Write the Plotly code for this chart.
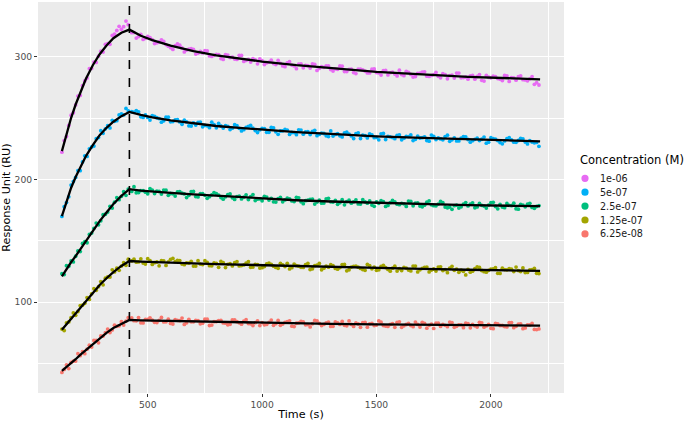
"""SPR sensorgram: association/dissociation responses with fitted 1:1 curves."""

import plotly.graph_objects as go

# ---- data -----------------------------------------------------------------
TIME = [
    125, 135, 145, 155, 165, 175, 185, 195, 205, 215,
    225, 235, 245, 255, 265, 275, 285, 295, 305, 315,
    325, 335, 345, 355, 365, 375, 385, 395, 405, 415,
    430, 450, 470, 490, 510, 530, 550, 570, 590, 610,
    630, 650, 670, 690, 710, 730, 750, 770, 790, 810,
    830, 850, 870, 890, 910, 930, 950, 970, 990, 1010,
    1030, 1050, 1070, 1090, 1110, 1130, 1150, 1170, 1190, 1210,
    1230, 1250, 1270, 1290, 1310, 1330, 1350, 1370, 1390, 1410,
    1430, 1450, 1470, 1490, 1510, 1530, 1550, 1570, 1590, 1610,
    1630, 1650, 1670, 1690, 1710, 1730, 1750, 1770, 1790, 1810,
    1830, 1850, 1870, 1890, 1910, 1930, 1950, 1970, 1990, 2010,
    2030, 2050, 2070, 2090, 2110, 2130, 2150, 2170, 2190, 2210,
]
# interleaved dissociation readings
TIME_MID = [
    440, 460, 480, 500, 520, 540, 560, 580, 600, 620,
    640, 660, 680, 700, 720, 740, 760, 780, 800, 820,
    840, 860, 880, 900, 920, 940, 960, 980, 1000, 1020,
    1040, 1060, 1080, 1100, 1120, 1140, 1160, 1180, 1200, 1220,
    1240, 1260, 1280, 1300, 1320, 1340, 1360, 1380, 1400, 1420,
    1440, 1460, 1480, 1500, 1520, 1540, 1560, 1580, 1600, 1620,
    1640, 1660, 1680, 1700, 1720, 1740, 1760, 1780, 1800, 1820,
    1840, 1860, 1880, 1900, 1920, 1940, 1960, 1980, 2000, 2020,
    2040, 2060, 2080, 2100, 2120, 2140, 2160, 2180, 2200,
]

RESP_1E06 = [
    222.2, 231.6, 234.9, 243.9, 252.3, 254.3, 260.7, 267.9, 268.4, 276.4,
    280.2, 282.5, 290.2, 290.4, 295.6, 295.3, 300.4, 304.4, 303.7, 310.0,
    310.6, 310.1, 317.2, 318.3, 321.3, 324.7, 322.3, 324.4, 329.0, 326.0,
    319.5, 315.1, 318.2, 314.9, 315.5, 310.6, 312.0, 312.5, 308.5, 305.9,
    310.3, 307.1, 305.4, 306.5, 302.1, 304.3, 304.8, 300.6, 301.1, 301.7,
    297.7, 301.3, 299.6, 297.7, 301.0, 296.9, 295.6, 297.4, 298.1, 293.6,
    295.6, 294.4, 296.9, 292.4, 294.9, 293.1, 290.2, 294.1, 292.9, 290.7,
    293.7, 290.4, 291.3, 292.4, 288.3, 289.7, 292.2, 287.9, 289.9, 286.2,
    289.7, 288.2, 286.7, 290.0, 286.7, 288.5, 285.1, 287.3, 284.3, 285.4,
    288.0, 285.5, 283.8, 286.5, 287.6, 283.9, 285.4, 284.0, 286.1, 282.0,
    284.9, 286.6, 282.7, 283.4, 284.4, 281.6, 285.3, 280.1, 283.2, 284.0,
    282.1, 280.5, 284.4, 282.9, 280.8, 284.3, 281.0, 281.9, 277.4, 276.9,
]
RESP_1E06_MID = [
    319.6, 316.3, 314.0, 316.5, 313.9, 311.3, 313.7, 309.8, 307.3, 309.0,
    309.3, 303.8, 306.0, 305.9, 302.9, 303.0, 304.6, 300.2, 301.9, 298.4,
    301.7, 299.2, 298.0, 301.1, 296.1, 297.7, 298.4, 294.1, 296.7, 295.0,
    297.1, 293.5, 294.5, 291.8, 295.9, 292.4, 293.9, 290.9, 292.6, 294.0,
    288.8, 291.8, 292.4, 289.5, 290.1, 292.4, 287.9, 289.6, 287.0, 289.9,
    289.2, 286.7, 289.8, 287.0, 285.0, 288.7, 286.9, 285.8, 288.9, 284.5,
    287.2, 283.4, 286.3, 287.3, 284.1, 284.7, 287.1, 282.7, 285.4, 284.6,
    282.6, 286.6, 283.0, 281.6, 284.7, 283.8, 280.7, 284.7, 282.7, 283.7,
    281.6, 284.7, 279.8, 282.7, 283.6, 281.2, 280.3, 283.7, 278.8,
]
RESP_5E07 = [
    169.8, 177.7, 181.1, 185.8, 195.4, 198.3, 201.6, 207.2, 207.1, 214.2,
    219.2, 218.7, 224.9, 226.4, 227.1, 233.1, 234.1, 239.7, 237.5, 241.2,
    243.7, 241.9, 248.1, 247.3, 247.8, 252.5, 253.4, 252.5, 257.8, 255.7,
    255.1, 256.0, 251.0, 252.5, 248.3, 251.4, 249.5, 247.7, 250.7, 247.1,
    248.6, 244.9, 246.8, 243.5, 244.3, 246.7, 244.0, 242.1, 244.6, 245.6,
    241.8, 243.2, 241.7, 243.7, 239.5, 242.3, 243.9, 239.8, 240.4, 241.4,
    238.4, 241.9, 236.7, 239.6, 240.2, 238.2, 236.4, 240.2, 238.7, 236.5,
    240.0, 236.6, 237.4, 234.9, 235.3, 237.2, 234.6, 238.5, 235.4, 237.2,
    233.3, 235.6, 237.1, 234.0, 232.2, 237.4, 235.0, 234.1, 235.9, 232.3,
    235.1, 236.2, 232.6, 233.7, 234.7, 231.1, 235.1, 233.8, 232.3, 236.0,
    232.2, 231.3, 233.5, 234.6, 230.3, 232.6, 231.7, 234.5, 230.3, 233.1,
    231.6, 229.0, 233.1, 232.2, 230.2, 233.4, 230.4, 231.5, 229.8, 226.9,
]
RESP_5E07_MID = [
    254.7, 255.0, 250.5, 250.5, 252.0, 250.2, 246.6, 250.7, 246.9, 248.4,
    246.8, 248.2, 243.6, 246.0, 246.4, 242.8, 243.6, 246.6, 242.0, 243.5,
    243.8, 240.6, 244.5, 241.6, 240.5, 243.2, 241.7, 238.2, 241.6, 238.4,
    242.3, 238.8, 239.4, 240.7, 236.6, 238.1, 240.4, 236.8, 238.8, 239.0,
    235.6, 237.7, 235.5, 239.5, 236.6, 235.5, 237.9, 236.8, 233.3, 237.9,
    236.0, 233.8, 236.2, 234.2, 237.1, 232.5, 234.7, 233.2, 236.2, 233.6,
    234.8, 231.6, 235.3, 234.0, 231.7, 236.1, 232.4, 233.0, 234.9, 231.0,
    233.8, 231.3, 234.9, 232.5, 231.5, 233.6, 232.7, 229.5, 234.0, 232.7,
    230.0, 231.3, 234.0, 230.3, 231.7, 232.9, 228.9, 230.4, 230.1,
]
RESP_25E08 = [
    123.2, 122.5, 129.7, 129.2, 133.6, 132.8, 137.4, 141.7, 141.2, 147.8,
    149.2, 148.4, 155.2, 156.3, 160.1, 164.4, 163.0, 166.3, 171.2, 171.6,
    173.4, 178.1, 176.7, 181.4, 185.1, 183.5, 186.2, 190.0, 187.0, 192.1,
    190.2, 189.1, 190.9, 189.6, 192.4, 188.5, 190.2, 191.3, 187.0, 188.3,
    189.8, 188.7, 185.2, 190.0, 186.0, 188.4, 187.0, 185.9, 189.3, 187.2,
    183.9, 187.6, 185.0, 186.0, 184.1, 187.4, 185.9, 182.8, 184.1, 186.2,
    183.2, 181.7, 184.3, 181.7, 184.7, 182.5, 185.4, 181.7, 182.7, 183.8,
    179.9, 183.1, 180.7, 184.6, 181.5, 179.7, 183.4, 181.9, 180.6, 183.3,
    179.9, 181.7, 182.4, 178.1, 180.5, 181.8, 178.8, 182.8, 179.8, 180.5,
    178.0, 182.0, 180.7, 178.3, 179.0, 182.5, 178.6, 179.9, 181.0, 176.9,
    175.6, 179.0, 177.7, 181.1, 179.9, 176.9, 180.4, 178.3, 179.1, 181.3,
    176.0, 177.5, 180.4, 178.6, 176.1, 179.7, 177.7, 180.5, 176.4, 178.7,
]
RESP_25E08_MID = [
    194.0, 189.3, 190.9, 188.3, 191.2, 190.5, 188.1, 191.2, 188.5, 186.4,
    190.1, 188.2, 187.1, 190.2, 185.7, 188.4, 184.6, 187.4, 188.4, 185.2,
    185.8, 188.1, 183.7, 186.4, 185.6, 183.6, 187.6, 184.0, 182.6, 185.6,
    184.6, 181.5, 185.4, 183.3, 184.2, 182.0, 185.0, 180.2, 183.0, 184.0,
    181.6, 180.6, 184.1, 181.7, 182.9, 181.0, 179.3, 183.1, 181.7, 180.0,
    183.5, 180.6, 179.1, 181.6, 182.7, 178.0, 181.0, 181.7, 179.4, 180.1,
    182.3, 178.5, 180.8, 177.7, 181.4, 179.3, 178.5, 182.0, 177.5, 177.5,
    178.6, 176.7, 179.8, 178.4, 180.8, 177.6, 178.9, 176.6, 181.0, 177.9,
    179.6, 177.0, 178.9, 180.6, 175.7, 179.0, 179.8, 177.2, 178.0,
]
RESP_125E09 = [
    78.1, 76.9, 83.2, 83.9, 87.3, 91.2, 89.3, 92.4, 97.2, 97.5,
    99.1, 103.7, 102.2, 106.8, 110.9, 109.6, 112.6, 116.8, 114.1, 119.5,
    120.5, 120.5, 126.3, 124.6, 127.7, 125.9, 129.4, 132.1, 130.0, 135.0,
    133.6, 132.6, 135.3, 131.0, 133.8, 132.2, 129.6, 133.7, 132.8, 135.6,
    134.0, 131.0, 132.0, 133.3, 129.4, 131.0, 133.8, 129.7, 131.9, 128.4,
    132.1, 130.8, 129.5, 133.0, 129.8, 131.7, 128.4, 130.7, 127.8, 129.0,
    131.7, 129.3, 127.6, 130.4, 131.6, 128.1, 129.7, 128.4, 130.6, 126.6,
    129.7, 131.5, 127.7, 128.5, 129.7, 126.9, 130.6, 125.5, 128.6, 129.4,
    127.5, 125.9, 129.8, 128.5, 126.4, 130.0, 126.7, 127.7, 125.3, 125.8,
    127.8, 125.4, 129.4, 126.4, 128.4, 124.6, 127.0, 128.6, 125.7, 124.0,
    129.2, 126.9, 126.0, 122.2, 124.4, 127.2, 128.3, 124.8, 125.9, 127.1,
    123.5, 127.6, 126.3, 126.8, 128.6, 124.9, 124.1, 126.3, 127.5, 123.3,
]
RESP_125E09_MID = [
    135.0, 132.8, 131.9, 135.4, 130.7, 132.7, 133.8, 129.9, 134.9, 133.0,
    133.9, 130.5, 131.8, 129.4, 133.8, 130.6, 132.3, 129.6, 131.5, 133.1,
    128.2, 131.4, 132.2, 129.5, 130.3, 132.9, 128.6, 130.5, 128.1, 131.2,
    130.7, 128.3, 131.6, 129.0, 127.1, 131.0, 129.3, 128.3, 131.5, 127.2,
    130.1, 126.4, 129.4, 130.5, 127.5, 128.2, 130.7, 126.4, 129.2, 128.5,
    126.6, 130.7, 127.2, 126.0, 129.1, 128.2, 125.2, 129.3, 127.3, 128.3,
    126.2, 129.4, 124.6, 127.5, 128.6, 126.2, 125.3, 128.8, 126.5, 127.8,
    125.9, 124.3, 125.1, 126.7, 125.2, 128.7, 125.8, 124.4, 126.9, 128.1,
    123.4, 126.5, 127.2, 124.9, 125.7, 127.9, 124.2, 126.5, 123.5,
]
RESP_625E10 = [
    42.8, 45.2, 48.9, 45.9, 50.9, 52.0, 52.0, 58.0, 56.4, 59.7,
    58.0, 61.7, 64.9, 63.4, 68.8, 68.9, 66.9, 72.5, 72.4, 75.1,
    78.1, 75.3, 77.4, 81.2, 80.3, 80.7, 84.1, 81.3, 84.6, 87.3,
    87.2, 84.8, 83.2, 86.0, 87.2, 83.6, 85.2, 83.9, 86.1, 82.2,
    85.2, 87.0, 83.2, 84.0, 85.2, 82.4, 86.1, 81.0, 84.1, 85.0,
    83.1, 81.5, 85.5, 84.1, 82.1, 85.7, 82.4, 83.3, 80.9, 81.5,
    83.5, 81.1, 85.1, 82.2, 84.1, 80.4, 82.8, 84.4, 81.5, 79.8,
    85.1, 82.7, 81.9, 83.8, 80.3, 83.1, 84.3, 80.7, 81.9, 83.1,
    79.5, 83.6, 82.3, 80.9, 84.7, 81.0, 80.2, 82.4, 83.6, 79.5,
    81.8, 81.0, 83.8, 79.7, 82.6, 81.1, 78.6, 82.8, 81.9, 80.0,
    83.3, 80.3, 81.5, 82.9, 79.1, 80.7, 83.6, 79.6, 81.9, 78.4,
    82.2, 81.0, 79.8, 83.4, 80.3, 82.2, 79.0, 81.4, 77.8, 78.2,
]
RESP_625E10_MID = [
    84.9, 87.4, 83.1, 85.9, 85.3, 83.4, 87.5, 84.0, 82.7, 85.8,
    84.9, 81.9, 86.0, 84.0, 85.0, 82.9, 86.1, 81.3, 84.2, 85.2,
    82.9, 82.0, 85.5, 83.2, 84.5, 82.6, 80.9, 84.8, 83.4, 81.9,
    85.4, 82.5, 81.1, 83.6, 84.8, 80.1, 83.2, 83.9, 81.7, 82.4,
    84.7, 80.9, 83.2, 80.2, 83.9, 81.9, 81.2, 84.7, 80.2, 82.2,
    83.4, 79.6, 82.6, 81.3, 83.7, 80.5, 81.9, 79.5, 84.0, 80.8,
    82.6, 80.0, 81.9, 83.6, 78.8, 82.0, 82.9, 80.2, 81.1, 83.8,
    79.5, 81.5, 79.2, 82.4, 81.9, 79.7, 83.1, 80.6, 78.7, 82.6,
    81.0, 80.1, 83.4, 79.2, 82.1, 78.4, 81.5, 82.7, 77.7,
]

# fitted curves (black lines)
FIT_TIME = [125, 145, 165, 185, 205, 230, 260, 290, 320, 350, 385, 420, 470,
            520, 600, 700, 800, 900, 1000, 1150, 1300, 1500, 1700, 1900, 2100, 2215]
FIT_1E06 = [223, 237, 250, 261, 271, 282, 293, 302, 309, 315, 319.5, 322, 317,
            313.5, 309, 304.5, 301, 298.5, 296, 293, 290.5, 287.5, 285.5, 283.5, 282.3, 281.5]
FIT_5E07 = [170, 182, 193, 202, 210, 219, 228, 236, 242, 247, 251.5, 255, 252.5,
            250.5, 248, 245.5, 243.5, 242, 240.5, 238.5, 237, 235, 233.8, 232.6, 231.6, 231]
FIT_25E08 = [121, 127, 132.5, 137.5, 143, 150, 158, 166, 173, 180, 186.5, 192, 190.8,
             190, 189, 187.8, 186.6, 185.5, 184.5, 183, 182, 180.8, 179.8, 179, 178.5, 178.2]
FIT_125E09 = [77.5, 82, 86.5, 91, 95.5, 101, 107.5, 114, 119.5, 124.5, 129.5, 133.5, 133,
              132.6, 132.2, 131.6, 131, 130.5, 130, 129.3, 128.7, 127.8, 127.1, 126.4, 125.8, 125.5]
FIT_625E10 = [44, 47, 50, 53.5, 57, 61, 66, 70.5, 75, 79, 82.5, 85.5, 85.2,
              85, 84.6, 84.2, 83.8, 83.5, 83.1, 82.7, 82.3, 81.9, 81.5, 81.2, 81, 80.9]

INJECTION_END = 420  # end of association phase (dashed line)

CONCENTRATIONS = ["1e-06", "5e-07", "2.5e-07", "1.25e-07", "6.25e-08"]
RESPONSES = [RESP_1E06, RESP_5E07, RESP_25E08, RESP_125E09, RESP_625E10]
RESPONSES_MID = [RESP_1E06_MID, RESP_5E07_MID, RESP_25E08_MID,
                 RESP_125E09_MID, RESP_625E10_MID]
FITS = [FIT_1E06, FIT_5E07, FIT_25E08, FIT_125E09, FIT_625E10]
COLORS = ["#E76BF3", "#00B0F6", "#00BF7D", "#A3A500", "#F8766D"]

FONT = "DejaVu Sans"
W, H = 688, 421
MARGIN = dict(l=38, r=124, t=2, b=28)
PLOT_W = W - MARGIN["l"] - MARGIN["r"]
PLOT_H = H - MARGIN["t"] - MARGIN["b"]


def px_to_paper(x_px, y_px):
    """Page pixel -> paper coords (for the hand-drawn ggplot-style legend)."""
    return (x_px - MARGIN["l"]) / PLOT_W, 1 - (y_px - MARGIN["t"]) / PLOT_H


fig = go.Figure()

# raw points, lowest concentration drawn first
for resp, resp_mid, col in reversed(list(zip(RESPONSES, RESPONSES_MID, COLORS))):
    fig.add_trace(go.Scatter(
        x=TIME + TIME_MID, y=resp + resp_mid, mode="markers",
        marker=dict(size=3.8, color=col, line=dict(width=0)),
        showlegend=False, hoverinfo="skip",
    ))

for fit in FITS:
    fig.add_trace(go.Scatter(
        x=FIT_TIME, y=fit, mode="lines",
        line=dict(color="black", width=2.3),
        showlegend=False, hoverinfo="skip",
    ))

fig.add_vline(x=INJECTION_END, line=dict(color="black", width=1.6, dash="dash"),
              layer="above")

# legend, ggplot style: tight rows, round keys on a light key background
shapes = []
annotations = []
bx0, by0 = px_to_paper(577, 171.5)
bx1, by1 = px_to_paper(592.5, 241)
shapes.append(dict(type="rect", xref="paper", yref="paper",
                   x0=bx0, x1=bx1, y0=by1, y1=by0,
                   fillcolor="#F2F2F2", line=dict(width=0), layer="below"))
tx, ty = px_to_paper(577.5, 159.5)
annotations.append(dict(text="Concentration (M)", x=tx, y=ty, xref="paper", yref="paper",
                        xanchor="left", yanchor="middle", showarrow=False,
                        font=dict(family=FONT, size=11.5, color="black")))
r_x, r_y = 3.6 / PLOT_W, 3.6 / PLOT_H
for i, (conc, col) in enumerate(zip(CONCENTRATIONS, COLORS)):
    row_y = 178.3 + 13.9 * i
    cx, cy = px_to_paper(585, row_y)
    shapes.append(dict(type="circle", xref="paper", yref="paper",
                       x0=cx - r_x, x1=cx + r_x, y0=cy - r_y, y1=cy + r_y,
                       fillcolor=col, line=dict(width=0)))
    lx, ly = px_to_paper(597.5, row_y)
    annotations.append(dict(text=conc, x=lx, y=ly, xref="paper", yref="paper",
                            xanchor="left", yanchor="middle", showarrow=False,
                            font=dict(family=FONT, size=9.6, color="#1A1A1A")))

axis_common = dict(
    showgrid=True, gridcolor="white", gridwidth=1.1,
    zeroline=False, showline=False,
    ticks="outside", ticklen=3, tickwidth=1, tickcolor="#333333",
    tickfont=dict(family=FONT, size=9.2, color="#4D4D4D"),
    automargin=False,
)

fig.update_xaxes(
    **axis_common,
    range=[20.5, 2319.5],
    tickvals=[500, 1000, 1500, 2000],
    minor=dict(tickvals=[250, 750, 1250, 1750, 2250], showgrid=True,
               gridcolor="white", gridwidth=0.55, ticks=""),
    title=dict(text="Time (s)", font=dict(family=FONT, size=11.2, color="black"),
               standoff=1),
)
fig.update_yaxes(
    **axis_common,
    range=[26, 344.5],
    tickvals=[100, 200, 300],
    minor=dict(tickvals=[50, 150, 250], showgrid=True,
               gridcolor="white", gridwidth=0.55, ticks=""),
    title=dict(text="Response Unit (RU)",
               font=dict(family=FONT, size=11.2, color="black"), standoff=3),
)

fig.update_layout(
    width=W, height=H,
    margin=MARGIN,
    plot_bgcolor="#EBEBEB", paper_bgcolor="white",
    font=dict(family=FONT, color="black"),
    showlegend=False,
    shapes=shapes,
    annotations=annotations,
)

# the page body has an 8px default margin; drop it so the figure sits at 0,0
fig.write_html("out.html", config={"displayModeBar": False},
               post_script="document.body.style.margin = '0';")
